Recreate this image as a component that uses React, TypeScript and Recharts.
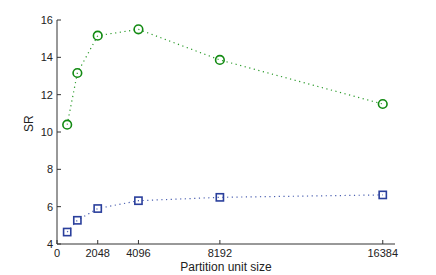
import React from 'react';
import { LineChart, Line, XAxis, YAxis } from 'recharts';

const partitionSizes = [512, 1024, 2048, 4096, 8192, 16384];
const greenSeries = [10.39, 13.16, 15.16, 15.5, 13.86, 11.5];
const blueSeries = [4.64, 5.27, 5.9, 6.32, 6.5, 6.63];
const xTicks = [0, 2048, 4096, 8192, 16384];
const yTicks = [4, 6, 8, 10, 12, 14, 16];

const data = partitionSizes.map((x, i) => ({ x, green: greenSeries[i], blue: blueSeries[i] }));

const FONT = 'Liberation Sans, Arial, Helvetica, sans-serif';
const TXT = '#222';
const TL = 4;

const BottomTick = (p: any) => (
  <g>
    <line x1={p.x} y1={p.y} x2={p.x} y2={p.y - TL} stroke="#333" strokeWidth={1} />
    <text x={p.x} y={p.y + 13} textAnchor="middle" fontSize={11} fontFamily={FONT} fill={TXT}>
      {p.payload.value}
    </text>
  </g>
);
const TopTick = (p: any) => (
  <line x1={p.x} y1={p.y} x2={p.x} y2={p.y + TL} stroke="#333" strokeWidth={1} />
);
const LeftTick = (p: any) => (
  <g>
    <line x1={p.x} y1={p.y} x2={p.x + TL} y2={p.y} stroke="#333" strokeWidth={1} />
    <text x={p.x - 4} y={p.y + 4} textAnchor="end" fontSize={11} fontFamily={FONT} fill={TXT}>
      {p.payload.value}
    </text>
  </g>
);
const RightTick = (p: any) => (
  <line x1={p.x} y1={p.y} x2={p.x - TL} y2={p.y} stroke="#999" strokeWidth={1} />
);

const CircleDot = (p: any) => (
  <circle cx={p.cx} cy={p.cy} r={4.3} fill="none" stroke="#128a12" strokeWidth={1.6} />
);
const SquareDot = (p: any) => (
  <rect x={p.cx - 3.6} y={p.cy - 3.6} width={7.2} height={7.2} fill="none" stroke="#2a3f9c" strokeWidth={1.6} />
);

export default function App() {
  return (
    <div style={{ position: 'absolute', left: 0, top: 0, background: '#fff' }}>
      <LineChart width={436} height={275} data={data} margin={{ top: 20, right: 41, bottom: 0, left: 0 }}>
        <XAxis
          xAxisId="b"
          dataKey="x"
          type="number"
          domain={[0, 17000]}
          ticks={xTicks}
          interval={0}
          tickSize={0}
          tickMargin={0}
          tickLine={false}
          tick={<BottomTick />}
          height={31}
          axisLine={{ stroke: '#333', strokeWidth: 1 }}
          label={{ value: 'Partition unit size', position: 'insideBottom', offset: 0, fontSize: 12, fontFamily: FONT, fill: TXT, dy: -4 }}
        />
        <XAxis
          xAxisId="t"
          orientation="top"
          dataKey="x"
          type="number"
          domain={[0, 17000]}
          ticks={xTicks}
          interval={0}
          tickSize={0}
          tickMargin={0}
          tickLine={false}
          tick={<TopTick />}
          height={0}
          axisLine={{ stroke: '#333', strokeWidth: 1 }}
        />
        <YAxis
          yAxisId="l"
          type="number"
          domain={[4, 16]}
          ticks={yTicks}
          interval={0}
          tickSize={0}
          tickMargin={0}
          tickLine={false}
          tick={<LeftTick />}
          width={57}
          axisLine={{ stroke: '#333', strokeWidth: 1 }}
          label={{ value: 'SR', angle: -90, position: 'insideLeft', offset: 29, fontSize: 12, fontFamily: FONT, fill: TXT }}
        />
        <YAxis
          yAxisId="r"
          orientation="right"
          type="number"
          domain={[4, 16]}
          ticks={yTicks}
          interval={0}
          tickSize={0}
          tickMargin={0}
          tickLine={false}
          tick={<RightTick />}
          width={0}
          axisLine={{ stroke: '#999', strokeWidth: 2 }}
        />
        <Line
          xAxisId="b"
          yAxisId="l"
          dataKey="green"
          stroke="#2a9a2a"
          strokeWidth={1.2}
          strokeDasharray="1.2 3.5"
          dot={<CircleDot />}
          activeDot={false}
          isAnimationActive={false}
        />
        <Line
          xAxisId="b"
          yAxisId="l"
          dataKey="blue"
          stroke="#4a5fb0"
          strokeWidth={1.2}
          strokeDasharray="1.2 3.5"
          dot={<SquareDot />}
          activeDot={false}
          isAnimationActive={false}
        />
      </LineChart>
    </div>
  );
}
